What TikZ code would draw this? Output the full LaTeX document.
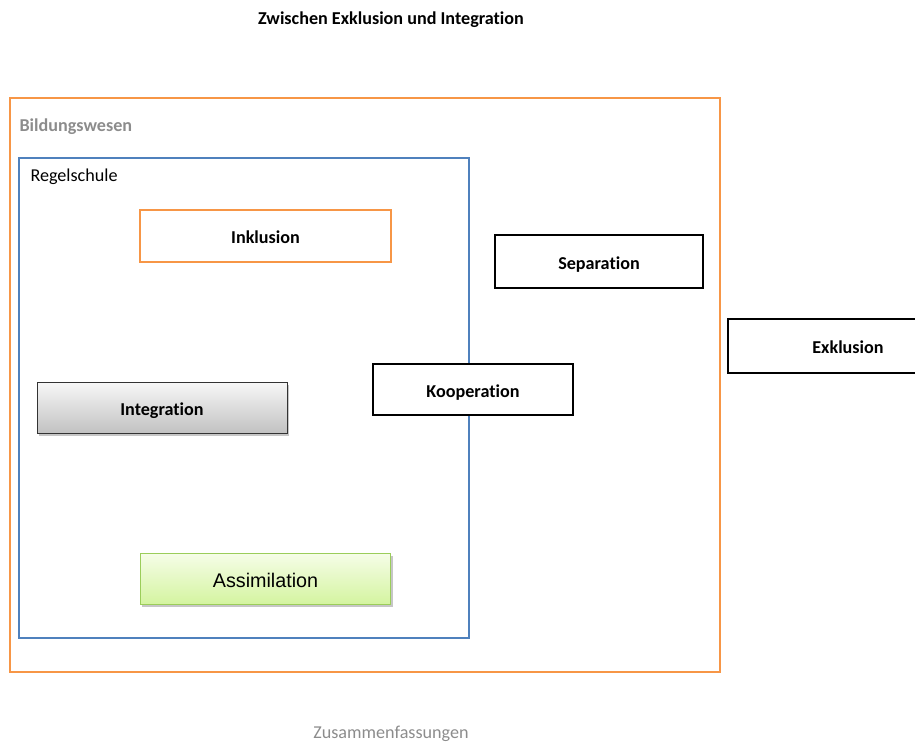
\documentclass[tikz,border=0pt]{standalone}
\usepackage{fontspec}
\setmainfont[Ligatures=CommonOff]{Carlito}
\newfontfamily\arialfont{Liberation Sans}
\usetikzlibrary{shadows}

\definecolor{frameorange}{RGB}{247,150,70}
\definecolor{frameblue}{RGB}{79,129,189}
\definecolor{labelgray}{RGB}{140,140,140}
\definecolor{assimborder}{RGB}{155,205,90}

\tikzset{every picture/.style={line width=0.75pt}}
\tikzset{
  boxlabel/.style={inner sep=0pt, text height=11.5pt, text depth=0pt},
  termbox/.style={boxlabel, draw=black, line width=1.5pt, fill=white, font=\bfseries\fontsize{13.6}{16}\selectfont},
  grad/.style={boxlabel, drop shadow={shadow xshift=1.5pt, shadow yshift=-2pt, opacity=0.45}}
}

\begin{document}
\begin{tikzpicture}[x=0.75pt,y=0.75pt,yscale=-1,xscale=1]
\useasboundingbox (0,0) rectangle (915,744);
\clip (0,0) rectangle (915,744);

%Shape: Rectangle Bildungswesen
\draw [color=frameorange, line width=1.75pt] (10,98) rectangle (720,672);
%Shape: Rectangle Regelschule
\draw [color=frameblue, line width=1.75pt] (19,158) rectangle (469,638);

% Boxes
\node (inklusion) [boxlabel, draw=frameorange, line width=1.5pt, minimum width=188pt, minimum height=39pt, font=\bfseries\fontsize{13.6}{16}\selectfont] at (265.5,236) {Inklusion};
\node (separation) [termbox, minimum width=156pt, minimum height=39.75pt] at (599,261.5) {Separation};
\node (exklusion) [termbox, minimum width=180pt, minimum height=40.5pt] at (848,346) {Exklusion};
\node (kooperation) [termbox, minimum width=150pt, minimum height=38.25pt] at (473,389.5) {Kooperation};
\node (integration) [grad, draw=black!80, line width=0.75pt, top color=gray!6, bottom color=gray!48, minimum width=187.5pt, minimum height=38.25pt, font=\bfseries\fontsize{13.6}{16}\selectfont] at (162,407.5) {Integration};
\node (assimilation) [grad, text height=13.5pt, draw=assimborder, line width=0.75pt, top color={rgb,255:red,246;green,253;blue,232}, bottom color={rgb,255:red,212;green,244;blue,160}, minimum width=188pt, minimum height=38.25pt, font=\arialfont\fontsize{14.8}{17}\selectfont] at (265.5,578.5) {Assimilation};

% Text Node
\node (title) [font=\bfseries\fontsize{13.6}{16}\selectfont] at (391,20) {Zwischen Exklusion und Integration};
% Text Node
\node (bildung) [anchor=west, inner sep=0pt, text=labelgray, font=\bfseries\fontsize{13.6}{16}\selectfont] at (19,127) {Bildungswesen};
% Text Node
\node (regel) [anchor=west, inner sep=0pt, font=\fontsize{13.6}{16}\selectfont] at (30,177) {Regelschule};
% Text Node
\node (summary) [inner sep=0pt, text=labelgray, font=\fontsize{13.6}{16}\selectfont] at (391,734) {Zusammenfassungen};

\end{tikzpicture}
\end{document}
